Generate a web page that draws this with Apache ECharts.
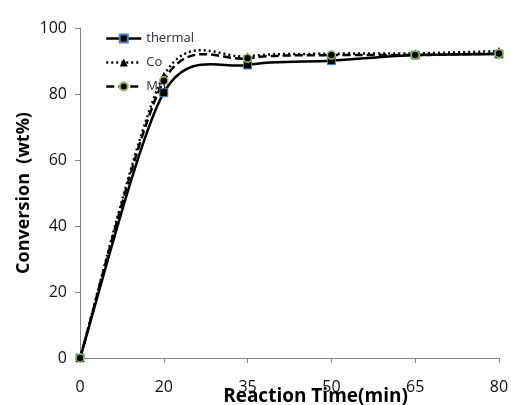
<!DOCTYPE html>
<html>
<head>
<meta charset="utf-8">
<script src="https://cdn.jsdelivr.net/npm/echarts@6/dist/echarts.min.js"></script>
<style>html,body{margin:0;padding:0;background:#fff}#c{width:511px;height:405px}</style>
</head>
<body>
<div id="c"></div>
<script>
const categories = ['0', '20', '35', '50', '65', '80'];
const thermal = [0, 80.4, 88.8, 90.1, 91.8, 92.1];
const co = [0, 85.5, 91.4, 92.2, 92.3, 93.0];
const mo = [0, 84.0, 90.8, 91.8, 91.8, 92.3];
const yTicks = [0, 20, 40, 60, 80, 100];

const font = 'Open Sans, Noto Sans, sans-serif';
const TENSION = 0.15;
const seriesDefs = [
  {name: 'thermal', values: thermal, dash: 'solid', symbol: 'rect', border: '#4f81bd', bw: 1},
  {name: 'Co', values: co, dash: [2, 3], symbol: 'triangle', border: '#000', bw: 0},
  {name: 'Mo', values: mo, dash: [8, 4], symbol: 'circle', border: '#9bbb59', bw: 1.5}
];

// Excel-style smoothed curve (Catmull-Rom -> Bezier), points placed via the axis scales
function curveItem(values, dash) {
  return function (params, api) {
    if (params.dataIndex !== 0) return null;
    const n = values.length;
    const pts = values.map((v, i) => api.coord([i, v]));
    let d = 'M' + pts[0][0] + ',' + pts[0][1];
    for (let i = 0; i < n - 1; i++) {
      const p0 = pts[Math.max(i - 1, 0)], p1 = pts[i], p2 = pts[i + 1], p3 = pts[Math.min(i + 2, n - 1)];
      const c1 = [p1[0] + (p2[0] - p0[0]) * TENSION, p1[1] + (p2[1] - p0[1]) * TENSION];
      const c2 = [p2[0] - (p3[0] - p1[0]) * TENSION, p2[1] - (p3[1] - p1[1]) * TENSION];
      d += ' C' + c1[0] + ',' + c1[1] + ' ' + c2[0] + ',' + c2[1] + ' ' + p2[0] + ',' + p2[1];
    }
    return {
      type: 'path',
      shape: {pathData: d},
      style: {fill: null, stroke: '#000', lineWidth: 2.5, lineDash: dash === 'solid' ? null : dash}
    };
  };
}

const series = [];
seriesDefs.forEach(s => {
  series.push({
    name: s.name + '-curve', type: 'custom', z: 2,
    data: s.values.map((v, i) => [i, v]),
    encode: {x: 0, y: 1},
    renderItem: curveItem(s.values, s.dash),
    silent: true
  });
});
seriesDefs.forEach(s => {
  series.push({
    name: s.name, type: 'line', data: s.values, z: 3,
    symbol: s.symbol, symbolSize: 8,
    lineStyle: {color: '#000', width: 2.5, opacity: 0},
    itemStyle: {color: '#000', borderColor: s.border, borderWidth: s.bw}
  });
});

const chart = echarts.init(document.getElementById('c'), null, {renderer: 'canvas'});
chart.setOption({
  backgroundColor: '#ffffff',
  animation: false,
  grid: {left: 80, right: 12, top: 28, bottom: 47, containLabel: false, outerBoundsMode: 'none'},
  legend: {
    orient: 'vertical', left: 105, top: 32, padding: 0, itemGap: 11, itemWidth: 35, itemHeight: 10,
    textStyle: {fontFamily: font, fontSize: 13, color: '#2b2b3a'},
    data: seriesDefs.map(s => ({
      name: s.name,
      lineStyle: {color: '#000', width: 2.5, type: s.dash, opacity: 1}
    }))
  },
  xAxis: {
    type: 'category', data: categories, boundaryGap: false,
    name: 'Reaction Time(min)', nameLocation: 'middle', nameGap: 29, nameMoveOverlap: false,
    nameTextStyle: {fontFamily: font, fontSize: 19, fontWeight: 'bold', color: '#000', padding: [0, 0, 0, 52]},
    axisLine: {lineStyle: {color: '#868686', width: 1}},
    axisTick: {show: true, length: 5, lineStyle: {color: '#868686'}},
    axisLabel: {fontFamily: font, fontSize: 16, color: '#111', margin: 21},
    splitLine: {show: false}
  },
  yAxis: {
    type: 'value', min: yTicks[0], max: yTicks[yTicks.length - 1], interval: 20,
    name: 'Conversion  (wt%)', nameLocation: 'middle', nameGap: 47, nameMoveOverlap: false,
    nameTextStyle: {fontFamily: font, fontSize: 18, fontWeight: 'bold', color: '#000'},
    axisLine: {show: true, lineStyle: {color: '#868686', width: 1}},
    axisTick: {show: true, length: 5, lineStyle: {color: '#868686'}},
    axisLabel: {fontFamily: font, fontSize: 16, color: '#111', margin: 13},
    splitLine: {show: false}
  },
  series: series
});
</script>
</body>
</html>
